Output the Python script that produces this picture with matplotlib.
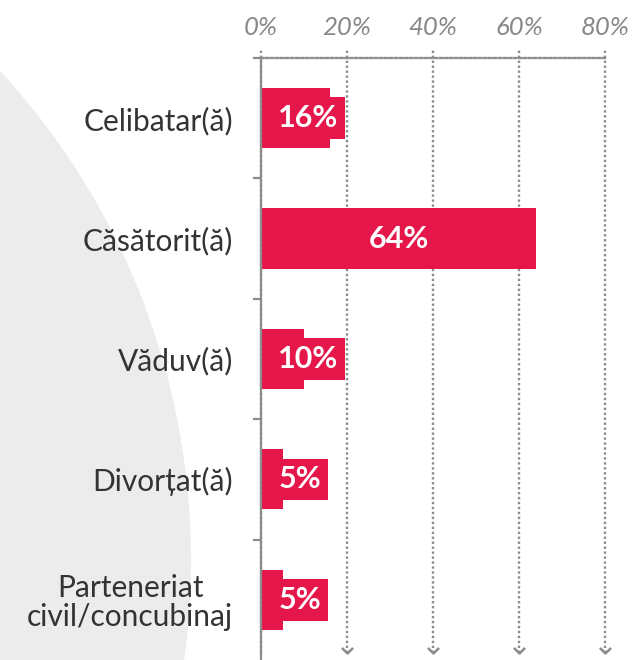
import matplotlib
matplotlib.use("Agg")
import matplotlib.pyplot as plt
from matplotlib.patches import Circle
from matplotlib.ticker import FixedLocator

categories = ["Celibatar(ă)", "Căsătorit(ă)", "Văduv(ă)", "Divorțat(ă)",
              "Parteneriat\ncivil/concubinaj"]
values = [16, 64, 10, 5, 5]
tick_values = [0, 20, 40, 60, 80]
tick_labels = ["0%", "20%", "40%", "60%", "80%"]

RED = "#E5174A"
GREY = "#8c8c8c"
FONT = "Lato"

W, H = 633, 660
fig = plt.figure(figsize=(W / 100, H / 100), dpi=100)
fig.patch.set_facecolor("white")

# background circle (pixel-based, inches via dpi_scale_trans)
circ = Circle((-531 / 100, (H - 560) / 100), 722 / 100, transform=fig.dpi_scale_trans,
              facecolor="#ececec", edgecolor="none", zorder=0)
fig.patches.append(circ)

ax = fig.add_axes([261 / W, 0, 344 / W, 602 / H])
ax.set_facecolor("none")
ax.set_zorder(1)

ypos = list(range(len(categories)))
ax.barh(ypos, values, height=0.5, color=RED, zorder=3)

ax.set_xlim(0, 80)
ax.set_ylim(len(categories) - 0.5, -0.5)

# gridlines (dotted, extend above top, with chevrons at bottom)
xt = ax.get_xaxis_transform()
for v in tick_values:
    ax.plot([v, v], [0.012, 1 + 9 / 602], transform=xt, color=GREY, lw=1.7,
            linestyle=(0, (1, 1.1)), clip_on=False, zorder=1)
    if v > 0:
        ax.plot([v], [0.012], transform=xt, marker=[(-1, 1), (0, 0), (1, 1)],
                markersize=8, mfc="none", mec=GREY, mew=1.8, clip_on=False, zorder=1)

# spines
for s in ["right", "bottom"]:
    ax.spines[s].set_visible(False)
ax.spines["top"].set_color(GREY)
ax.spines["top"].set_linestyle((0, (1, 1.1)))
ax.spines["top"].set_linewidth(1.7)
ax.spines["left"].set_color(GREY)
ax.spines["left"].set_linewidth(1.6)
ax.spines["left"].set_zorder(4)

# x ticks on top
ax.xaxis.tick_top()
ax.set_xticks(tick_values)
ax.set_xticklabels(tick_labels, fontsize=18.5, style="italic", color="#888888",
                   family=FONT)
ax.tick_params(axis="x", length=0, pad=14)

# y ticks
ax.set_yticks(ypos)
ax.set_yticklabels(categories, fontsize=21.5, color="#333333", family=FONT,
                   multialignment="center", linespacing=1.05)
ax.tick_params(axis="y", which="major", length=0, pad=20)
ax.yaxis.set_minor_locator(FixedLocator([i - 0.5 for i in range(len(categories))]))
ax.tick_params(axis="y", which="minor", length=6, width=1.6, color=GREY)

# value labels
for y, v in zip(ypos, values):
    if v >= 20:
        ax.text(v / 2, y, f"{v}%", ha="center", va="center", color="white",
                fontsize=22, fontweight="bold", family=FONT, zorder=5)
    else:
        ax.text(4.0, y, f"{v}%", ha="left", va="center", color="white",
                fontsize=22, fontweight="bold", family=FONT, zorder=5,
                bbox=dict(boxstyle="square,pad=0.22", facecolor=RED, edgecolor="none"))

fig.savefig("out.png", dpi=100)
